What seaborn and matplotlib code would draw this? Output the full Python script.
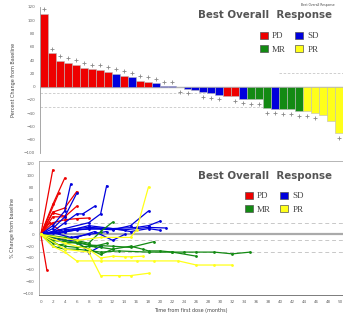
import numpy as np
import pandas as pd
import matplotlib
matplotlib.use("Agg")
import matplotlib.pyplot as plt
from matplotlib.patches import Patch
import seaborn as sns

# ---------------- data: waterfall (best % change) ----------------
bar_values = [110, 50, 39, 36, 32.5, 28.5, 26, 25, 22.5, 19, 16.5, 14, 8.5, 7.5, 5,
              0.5, 0.3, -1, -3, -5, -8, -10, -12, -14, -14, -18, -19, -19, -32, -33,
              -34, -34, -37, -37, -40, -43, -52, -70]
bar_response = ["PD"] * 9 + ["SD", "PD", "SD", "PD", "PD", "SD", "SD", "SD", "SD", "SD",
                "SD", "SD", "SD", "SD", "PD", "PD", "SD", "MR", "MR", "MR", "SD", "MR",
                "MR", "MR", "PR", "PR", "PR", "PR", "PR"]
marker_bars = [0, 1, 2, 3, 4, 5, 6, 7, 8, 9, 10, 11, 12, 13, 14, 15, 16, 17, 18, 20, 21,
               22, 24, 25, 26, 27, 28, 29, 30, 31, 32, 33, 34, 37]

# ---------------- data: spider plot (per patient) ----------------
pd_times = [[0, 2], [0, 1], [0, 2, 4], [0, 3], [0, 2, 4, 6], [0, 2, 4, 6],
            [0, 2, 4, 6, 8], [0, 2, 4], [0, 1.5, 3]]
pd_values = [[0, 110], [0, -60], [0, 51, 96], [0, 70], [0, 38, 45, 73], [0, 30, 30, 48],
             [0, 20, 25, 27, 28], [0, 37, 31], [0, 20, 8]]

sd_times = [[0, 2, 4, 5], [0, 2, 4, 6], [0, 2, 4, 6, 7, 9], [0, 4, 8, 10, 11],
            [0, 4, 8, 12, 15, 18], [0, 4, 8, 12, 16, 18, 20], [0, 4, 8, 12, 15, 18, 20],
            [0, 3, 6, 10, 14, 18, 21], [0, 2, 4, 6, 8, 10], [0, 3, 6, 9, 12, 14],
            [0, 2, 5, 8, 11]]
sd_values = [[0, 15, 40, 86], [0, 10, 30, 70], [0, 5, 20, 35, 35, 48], [0, 10, 20, 35, 83],
             [0, 5, 10, 8, 15, 40], [0, 8, 12, 10, 12, 15, 23], [0, 5, 15, 10, 5, 10, 7],
             [0, 2, 8, 10, 8, 12, 11], [0, -5, -10, -10, -31, -20], [0, -8, -5, 5, -10, 0],
             [0, 3, -5, 0, 5]]

mr_times = [[0, 2, 4, 6, 8, 10, 12, 15, 17, 18, 20, 22, 24, 26, 29, 32, 35],
            [0, 2, 4, 6, 10, 13, 18, 22, 26], [0, 4, 8, 12, 15, 19],
            [0, 4, 8, 10, 12], [0, 2, 6, 10, 12], [0, 3, 6, 9, 11]]
mr_values = [[0, -15, -20, -22, -20, -22, -25, -20, -25, -28, -28, -30, -30, -30, -30, -33, -30],
             [0, -20, -25, -25, -30, -28, -30, -30, -37], [0, -10, -18, -20, -22, -12],
             [0, -5, -15, 5, 21], [0, -10, -15, -34, -25], [0, -18, -12, -20, -15]]

pr_times = [[0, 2, 4, 6, 10, 16, 19, 23, 26, 29, 32], [0, 4, 8, 10, 13, 15, 18],
            [0, 4, 8, 10, 12, 14, 15, 17], [0, 6, 10, 15, 16, 18]]
pr_values = [[0, -20, -30, -45, -45, -45, -45, -45, -52, -52, -52],
             [0, -25, -30, -70, -70, -70, -66],
             [0, -15, -25, -40, -37, -38, -38, -37], [0, -10, -5, -5, 8, 81]]

labels = ["PD", "SD", "MR", "PR"]
colors = {"PD": "#ee0000", "SD": "#0000dd", "MR": "#138a13", "PR": "#ffff1a"}

# ---------------- build frames ----------------
wf = pd.DataFrame({"idx": np.arange(len(bar_values)), "val": bar_values, "resp": bar_response})
rows = []
pid = 0
for lab, tl, vl in [("PD", pd_times, pd_values), ("SD", sd_times, sd_values),
                    ("MR", mr_times, mr_values), ("PR", pr_times, pr_values)]:
    for t, v in zip(tl, vl):
        for a, b in zip(t, v):
            rows.append((pid, lab, a, b))
        pid += 1
sp = pd.DataFrame(rows, columns=["pid", "resp", "time", "val"])

sns.set_style("white")
plt.rcParams["font.family"] = ["DejaVu Sans"]

W, H = 343, 322
fig = plt.figure(figsize=(W / 100, H / 100), dpi=100)

def fx(px):
    return px / W

def fy(py):
    return 1 - py / H

# ---------------- top: waterfall ----------------
ax1 = fig.add_axes([fx(40), fy(153), fx(303), fy(7) - fy(153)])
sns.barplot(data=wf, x="idx", y="val", hue="resp", palette=colors, dodge=False,
            width=1.0, saturation=1, edgecolor="#bbbbbb", linewidth=0.4, legend=False, ax=ax1)
mk_y = [wf.val[i] + 7 if wf.val[i] > 0 else wf.val[i] - 7 for i in marker_bars]
ax1.scatter(marker_bars, mk_y, marker="+", s=5, color="#888888", linewidths=0.6, zorder=3)
ax1.axhline(0, color="#aaaaaa", lw=1.0, zorder=0)
ax1.axhline(-10, color="#c8c8c8", lw=0.6, ls=(0, (3, 2)), zorder=0)
ax1.axhline(-30, color="#c8c8c8", lw=0.6, ls=(0, (3, 2)), zorder=0)
ax1.axhline(20, xmin=30 / 38, color="#c8c8c8", lw=0.6, ls=(0, (3, 2)), zorder=0)
ax1.set_xlim(-0.5, len(bar_values) - 0.5)
ax1.set_ylim(-100, 120)
ax1.set_yticks(np.arange(-100, 121, 20))
ax1.set_xticks([])
ax1.set_xlabel("")
ax1.set_ylabel("Percent Change from Baseline", fontsize=3.5, color="#444444", labelpad=6)
ax1.tick_params(axis="y", labelsize=3, colors="#666666", length=2, width=0.5, pad=1.5)
for s in ["top", "right", "bottom"]:
    ax1.spines[s].set_visible(False)
ax1.spines["left"].set_color("#999999")
ax1.spines["left"].set_linewidth(0.6)

# ---------------- bottom: spider ----------------
ax2 = fig.add_axes([fx(39), fy(295), fx(304), fy(161) - fy(295)])
ax2.axhline(0, color="#aaaaaa", lw=1.6, zorder=0)
for yv in (20, -10, -30):
    ax2.axhline(yv, color="#c8c8c8", lw=0.7, ls=(0, (4, 3)), zorder=0)
sns.lineplot(data=sp, x="time", y="val", hue="resp", units="pid", estimator=None,
             palette=colors, marker="o", markersize=2, markeredgewidth=0, lw=0.9,
             legend=False, ax=ax2, sort=False)
ax2.set_xlim(-0.3, 50.5)
ax2.set_ylim(-103, 125)
ax2.set_xticks(np.arange(0, 51, 2))
ax2.set_yticks(np.arange(-100, 121, 20))
ax2.set_xlabel("Time from first dose (months)", fontsize=3.5, color="#444444", labelpad=3)
ax2.set_ylabel("% Change from baseline", fontsize=3.5, color="#444444", labelpad=6)
ax2.tick_params(labelsize=3, colors="#666666", length=2, width=0.5, pad=1.5)
for s in ax2.spines.values():
    s.set_color("#aaaaaa")
    s.set_linewidth(0.6)
ax2.spines["bottom"].set_color("#666666")

# ---------------- legends ----------------
handles = [Patch(facecolor=colors[l], edgecolor="#555555", linewidth=0.5) for l in labels]
order = [0, 2, 1, 3]
for ax, ty, ly in [(ax1, 15, 27), (ax2, 176, 187)]:
    fig.text(fx(265), fy(ty), "Best Overall  Response", ha="center", va="center",
             fontsize=7.4, color="#555555", fontweight="semibold")
    leg = ax.legend([handles[i] for i in order], [labels[i] for i in order], ncol=2,
                    loc="upper left", bbox_to_anchor=(fx(255 if ax is ax1 else 240), fy(ly)),
                    bbox_transform=fig.transFigure, frameon=False, fontsize=6.5,
                    handlelength=0.9, handleheight=0.9, handletextpad=0.5,
                    columnspacing=1.0, labelspacing=0.5, borderpad=0,
                    prop={"family": "Liberation Serif", "size": 6.5})
    for t in leg.get_texts():
        t.set_color("#444444")

fig.text(fx(318), fy(5), "Best Overall Response", ha="center", va="center",
         fontsize=2.2, color="#444444")

fig.savefig("out.png", dpi=100)
